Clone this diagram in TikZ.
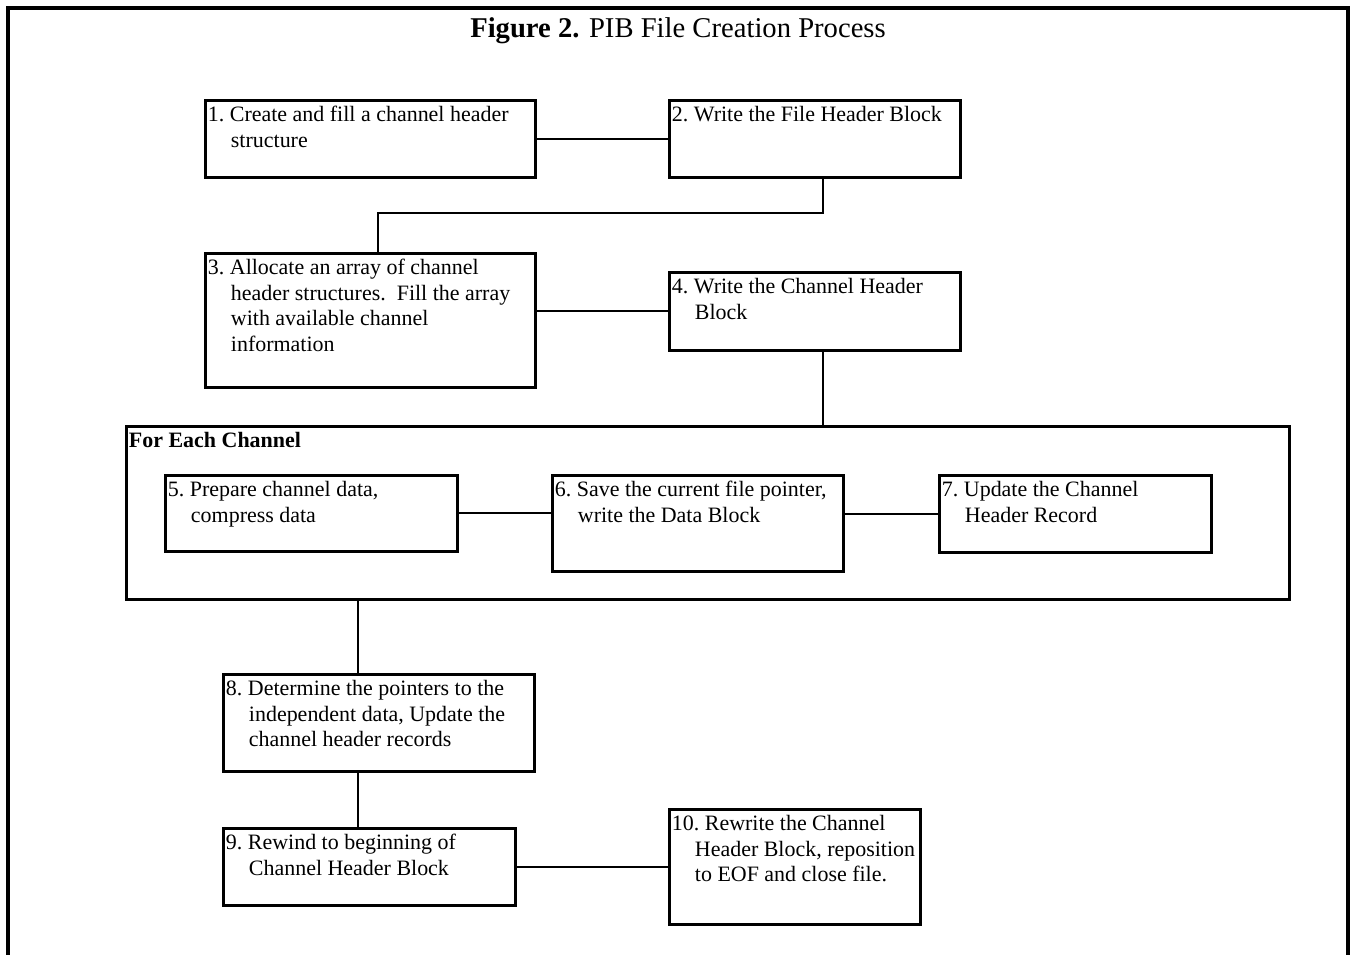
\documentclass[tikz,border=0pt]{standalone}
\usepackage{fontspec}
\setmainfont{Liberation Serif}
\usepackage{tikz}
\usetikzlibrary{positioning}

\newlength{\pxu}\setlength{\pxu}{0.02cm}
\newlength{\hangw}\setlength{\hangw}{0.46cm}
% box body: width and height in pixels, lines of text
\newcommand{\stepbody}[3]{\parbox[t][\dimexpr#2\pxu-4pt\relax][t]{\dimexpr#1\pxu-3pt\relax}{\begin{tabular}[t]{@{}l@{}}#3\end{tabular}}}
\newcommand{\nextline}{\\\hspace*{\hangw}}

\begin{document}
\begin{tikzpicture}
  [
    x = 0.02cm, y = -0.02cm,
    stepbox/.style = {draw, line width = 1.5pt, anchor = north west,
                     inner xsep = 1.5pt, inner ysep = 2pt,
                     font = \fontsize{12.5}{14.5}\selectfont},
    loopbox/.style = {stepbox},
    link/.style = {line width = 1.2pt},
    frame/.style = {line width = 1.8pt},
  ]

  \useasboundingbox (0,0) rectangle (1350,955);
  \draw[frame] (8,960) -- (8,8) -- (1348,8) -- (1348,960);

  \node (title) at (678,31) {\fontsize{16.3}{19}\selectfont\textbf{Figure 2.} PIB File Creation Process};

  \node[stepbox] (s1) at (204,99) {\stepbody{330}{77}{1.~Create and fill a channel header\nextline structure}};
  \node[stepbox] (s2) at (668,99) {\stepbody{291}{77}{2.~Write the File Header Block}};
  \node[stepbox] (s3) at (204,252) {\stepbody{330}{134}{3.~Allocate an array of channel\nextline header structures.\ \ Fill the array\nextline with available channel\nextline information}};
  \node[stepbox] (s4) at (668,271) {\stepbody{291}{78}{4.~Write the Channel Header\nextline Block}};

  \node[loopbox] (loop) at (125,425) {\stepbody{1163}{173}{\textbf{For Each Channel}}};
  \node[stepbox] (s5) at (164,474) {\stepbody{292}{76}{5.~Prepare channel data,\nextline compress data}};
  \node[stepbox] (s6) at (551,474) {\stepbody{291}{96}{6.~Save the current file pointer,\nextline write the Data Block}};
  \node[stepbox] (s7) at (938,474) {\stepbody{272}{77}{7.~Update the Channel\nextline Header Record}};

  \node[stepbox] (s8) at (222,673) {\stepbody{311}{97}{8.~Determine the pointers to the\nextline independent data, Update the\nextline channel header records}};
  \node[stepbox] (s9) at (222,827) {\stepbody{292}{77}{9.~Rewind to beginning of\nextline Channel Header Block}};
  \node[stepbox] (s10) at (668,808) {\stepbody{251}{115}{10.~Rewrite the Channel\nextline Header Block, reposition\nextline to EOF and close file.}};

  \coordinate (bend a) at (823,213);
  \coordinate (bend b) at (378,213);
  \coordinate (spine) at (358,700);

  \draw[link] (s1.east) -- (s2.west);
  \draw[link] (bend a |- s2.south) -- (bend a) -- (bend b) -- (bend b |- s3.north);
  \draw[link] (s4.west) -- (s4.west -| s3.east);
  \draw[link] (bend a |- s4.south) -- (bend a |- loop.north);
  \draw[link] (s5.east) -- (s5.east -| s6.west);
  \draw[link] (s7.west) -- (s7.west -| s6.east);
  \draw[link] (spine |- loop.south) -- (spine |- s8.north);
  \draw[link] (spine |- s8.south) -- (spine |- s9.north);
  \draw[link] (s9.east) -- (s9.east -| s10.west);

\end{tikzpicture}
\end{document}
